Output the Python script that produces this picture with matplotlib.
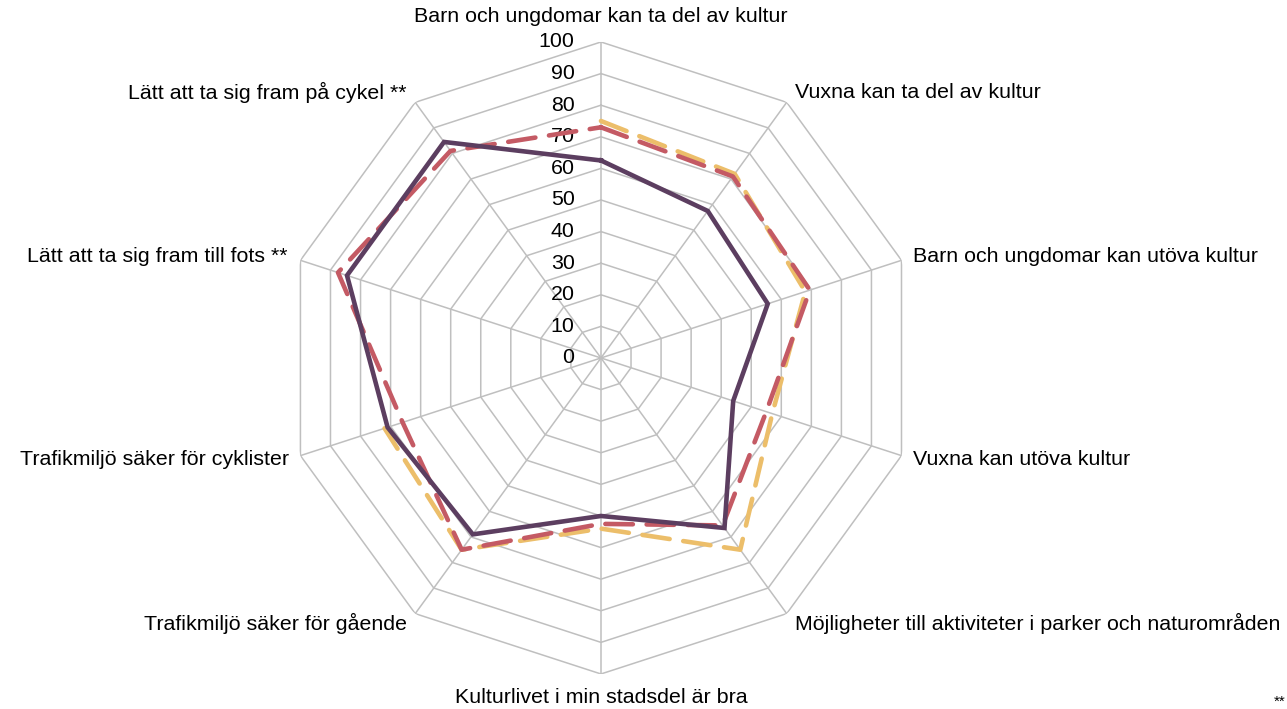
import numpy as np
import matplotlib
matplotlib.use("Agg")
import matplotlib.pyplot as plt

plt.rcParams['font.family'] = ['Liberation Sans', 'DejaVu Sans']

# categories, clockwise from the top
categories = [
    "Barn och ungdomar kan ta del av kultur",
    "Vuxna kan ta del av kultur",
    "Barn och ungdomar kan utöva kultur",
    "Vuxna kan utöva kultur",
    "Möjligheter till aktiviteter i parker och naturområden",
    "Kulturlivet i min stadsdel är bra",
    "Trafikmiljö säker för gående",
    "Trafikmiljö säker för cyklister",
    "Lätt att ta sig fram till fots **",
    "Lätt att ta sig fram på cykel **",
]

# series values (yellow has no answers for the ** questions)
yellow_vals = [75, 72, 68, 57, 75, 54, 75, 72, np.nan, np.nan]
red_vals = [73, 71, 69.5, 55, 65.5, 52.5, 75, 66, 87.5, 81]
purple_vals = [62.5, 57.5, 55.5, 44, 66.5, 50, 69, 71, 84.5, 84.5]

ring_values = [10, 20, 30, 40, 50, 60, 70, 80, 90, 100]
tick_labels = ["0", "10", "20", "30", "40", "50", "60", "70", "80", "90", "100"]

grid_color = "#BFBFBF"
fs = 15.4

fig = plt.figure(figsize=(12.87, 7.09), dpi=100)
ax = fig.add_axes([0.2214, 0.0494, 0.4911, 0.8914], projection='polar')
ax.set_theta_zero_location('N')
ax.set_theta_direction(-1)
ax.set_ylim(0, 100)
ax.grid(False)
ax.spines['polar'].set_visible(False)
ax.set_xticks([])
ax.set_yticks([])
ax.patch.set_visible(False)

n = len(categories)
angles = np.arange(n) * 2 * np.pi / n
closed = np.append(angles, angles[0])

# decagon grid
for r in ring_values:
    ax.plot(closed, [r] * (n + 1), color=grid_color, lw=1.1, zorder=1)
for a in angles:
    ax.plot([a, a], [0, 100], color=grid_color, lw=1.1, zorder=1)


def close(v):
    return np.append(v, v[0])


ax.plot(closed, close(yellow_vals), color="#ECBE6A", lw=3.3, ls=(0, (6, 3)),
        dash_capstyle='round', zorder=3)
ax.plot(closed, close(red_vals), color="#C45A64", lw=3.3, ls=(0, (6, 3)),
        dash_capstyle='round', zorder=4)
ax.plot(closed, close(purple_vals), color="#5C3E60", lw=3.3,
        solid_joinstyle='miter', zorder=5)

# radial tick labels
for i, lab in enumerate(tick_labels):
    ax.annotate(lab, xy=(0, i * 10), xytext=(-19, 0), textcoords='offset points',
                ha='right', va='center', fontsize=fs, annotation_clip=False)

# category labels
offsets = [(0, 18, 'center'), (6, 7, 'left'), (8, 3, 'left'), (8, -3, 'left'),
           (6, -7, 'left'), (0, -17, 'center'), (-6, -7, 'right'),
           (-8, -3, 'right'), (-9, 3, 'right'), (-6, 7, 'right')]
for a, lab, (dx, dy, ha) in zip(angles, categories, offsets):
    ax.annotate(lab, xy=(a, 100), xytext=(dx, dy), textcoords='offset points',
                ha=ha, va='center', fontsize=fs, annotation_clip=False)

fig.text(1286 / 1287, 1 - 702 / 709, "**", ha='right', va='center', fontsize=11)

fig.savefig("out.png", dpi=100)
